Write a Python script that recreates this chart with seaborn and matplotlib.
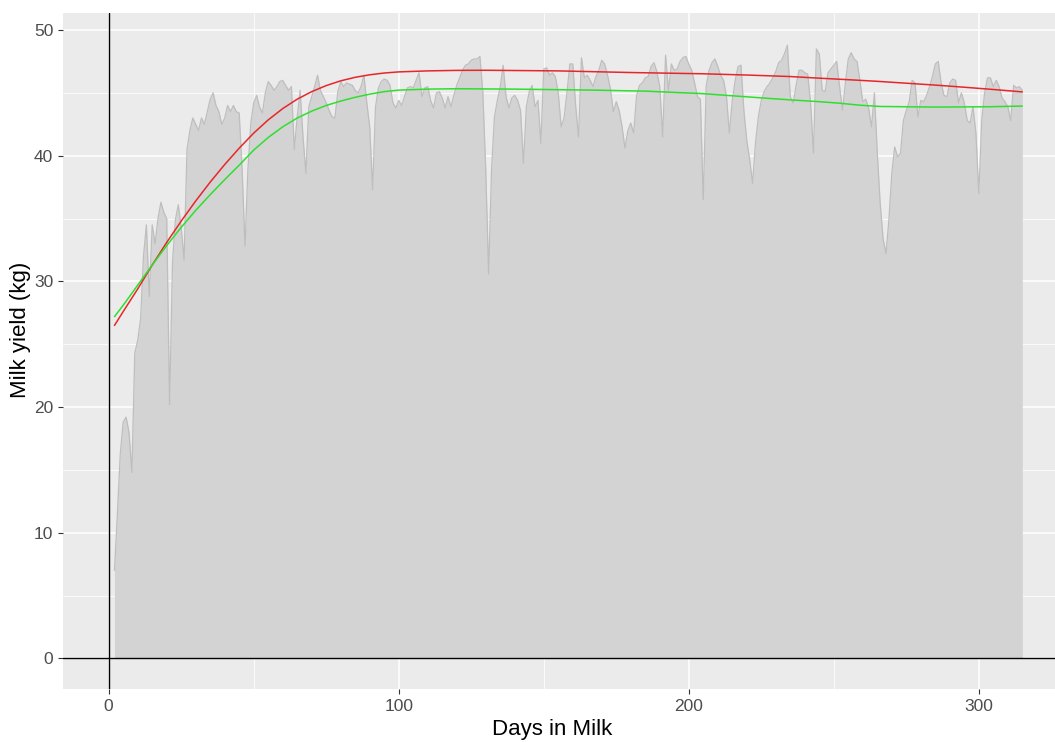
import matplotlib
matplotlib.use("Agg")
import matplotlib.pyplot as plt
import seaborn as sns
import pandas as pd
from matplotlib.ticker import MultipleLocator

# ---------------- data ----------------
days = list(range(2, 316))
milk_yield = [
    7.0, 11.5, 16.3, 18.8, 19.2, 18.0, 14.8, 24.3, 25.3, 27.0,
    32.0, 34.5, 28.8, 34.5, 33.0, 35.0, 36.3, 35.5, 35.0, 20.2,
    31.5, 34.9, 36.1, 34.3, 31.7, 40.5, 42.0, 43.0, 42.5, 42.0,
    43.0, 42.5, 43.5, 44.5, 45.0, 44.0, 43.5, 42.5, 43.0, 44.0,
    43.5, 44.0, 43.5, 43.4, 38.9, 32.8, 38.9, 42.6, 44.2, 44.8,
    43.9, 43.4, 45.0, 45.9, 45.6, 45.2, 45.5, 45.9, 46.0, 45.6,
    45.2, 45.5, 40.5, 43.1, 45.2, 41.5, 38.6, 43.9, 44.7, 45.5,
    46.4, 45.2, 44.7, 44.2, 43.6, 43.1, 43.0, 45.1, 45.9, 45.5,
    45.8, 45.7, 45.6, 45.2, 45.0, 45.5, 46.4, 44.2, 42.3, 37.3,
    43.9, 45.4, 45.9, 46.1, 46.0, 45.6, 44.2, 43.8, 44.4, 44.0,
    44.7, 45.4, 45.5, 45.4, 46.0, 46.6, 44.7, 45.4, 45.5, 44.4,
    43.8, 45.0, 45.1, 44.6, 43.8, 44.7, 43.9, 44.8, 45.6, 46.2,
    46.8, 47.2, 47.3, 47.6, 47.7, 47.7, 47.9, 45.0, 38.9, 30.6,
    38.9, 43.1, 44.4, 45.5, 47.2, 44.7, 43.8, 44.6, 44.8, 44.4,
    43.6, 39.4, 43.9, 45.1, 45.6, 43.9, 44.4, 41.0, 46.9, 47.0,
    46.4, 46.6, 46.3, 45.0, 42.3, 43.0, 45.0, 47.3, 47.3, 44.0,
    41.5, 47.8, 46.2, 46.4, 46.0, 45.5, 46.3, 46.8, 47.6, 47.3,
    46.4, 45.3, 43.5, 44.3, 43.6, 42.3, 40.6, 42.0, 42.6, 41.8,
    44.8, 45.6, 45.8, 46.2, 46.3, 47.1, 47.4, 46.7, 45.5, 41.5,
    48.0, 45.2, 47.3, 46.8, 46.9, 47.5, 47.8, 47.9, 47.3, 46.8,
    45.8, 44.7, 44.5, 36.5, 45.5, 46.8, 47.4, 47.7, 47.1, 46.4,
    46.0, 44.7, 41.8, 44.4, 46.0, 47.1, 47.2, 43.6, 41.2, 39.7,
    37.8, 41.0, 43.1, 44.4, 45.1, 45.5, 45.8, 46.2, 46.7, 47.4,
    47.6, 48.1, 48.8, 44.7, 44.2, 45.6, 46.8, 46.8, 46.6, 46.5,
    44.2, 40.2, 48.5, 48.1, 45.2, 45.1, 46.6, 46.9, 47.2, 47.5,
    45.5, 43.6, 45.8, 47.7, 48.2, 47.7, 47.5, 46.0, 44.3, 44.5,
    43.8, 42.3, 45.0, 40.2, 36.2, 33.4, 32.2, 34.9, 38.6, 40.7,
    39.9, 40.2, 42.8, 43.6, 44.3, 46.0, 45.8, 43.1, 44.4, 44.3,
    44.8, 45.5, 46.3, 47.3, 47.5, 45.8, 44.8, 44.7, 45.8, 46.1,
    46.0, 44.2, 45.0, 44.2, 42.8, 42.6, 43.9, 41.8, 37.0, 42.8,
    45.0, 46.2, 46.2, 45.5, 46.0, 45.5, 44.6, 44.3, 43.9, 42.8,
    45.6, 45.4, 45.5, 45.2,
]

red_days = [2, 5, 10, 15, 20, 25, 30, 35, 40, 45, 50, 55, 60, 65, 70, 75, 80,
            85, 90, 95, 100, 110, 120, 130, 155, 180, 205, 220, 235, 245, 255,
            265, 275, 285, 295, 305, 315]
red_fit = [26.5, 27.6, 29.4, 31.3, 33.1, 34.8, 36.4, 37.9, 39.3, 40.6, 41.8, 42.85,
           43.75, 44.5, 45.1, 45.58, 45.96, 46.24, 46.44, 46.58, 46.67, 46.75, 46.79,
           46.8, 46.75, 46.62, 46.52, 46.42, 46.3, 46.17, 46.05, 45.92, 45.77, 45.62,
           45.45, 45.27, 45.08]

green_days = [2, 5, 10, 15, 20, 25, 30, 35, 40, 45, 50, 55, 60, 65, 70, 75, 80,
              85, 90, 95, 100, 110, 120, 140, 167, 185, 197, 204, 215, 227, 236,
              245, 252, 259, 266, 285, 304, 315]
green_fit = [27.2, 28.1, 29.7, 31.3, 32.85, 34.3, 35.65, 36.9, 38.1, 39.25, 40.45,
             41.45, 42.3, 43.0, 43.55, 44.0, 44.35, 44.65, 44.9, 45.1, 45.22, 45.3,
             45.33, 45.3, 45.22, 45.14, 45.02, 44.95, 44.77, 44.57, 44.43, 44.3,
             44.18, 44.02, 43.92, 43.87, 43.9, 43.95]

x_ticks = [0, 100, 200, 300]
y_ticks = [0, 10, 20, 30, 40, 50]

df = pd.DataFrame({"dim": days, "yield": milk_yield})
df_red = pd.DataFrame({"dim": red_days, "fit": red_fit})
df_green = pd.DataFrame({"dim": green_days, "fit": green_fit})

# ---------------- style ----------------
sns.set_theme(style="darkgrid", rc={
    "axes.facecolor": "#EBEBEB",
    "figure.facecolor": "white",
    "grid.color": "white",
})
plt.rcParams["font.family"] = ["Liberation Sans", "DejaVu Sans"]

W, H = 1055, 742
fig = plt.figure(figsize=(W / 100, H / 100), dpi=100)
left, right, top, bottom = 63, 1068, 12.7, 689
aw, ah = right - left, bottom - top
ax = fig.add_axes([left / W, (H - bottom) / H, aw / W, ah / H])

# area
ax.fill_between(df["dim"], 0, df["yield"], color="#D3D3D3", linewidth=0, zorder=2)
sns.lineplot(data=df, x="dim", y="yield", ax=ax, color="#BEBEBE", linewidth=0.9, zorder=3)

# fitted curves
sns.lineplot(data=df_red, x="dim", y="fit", ax=ax, color="#E8262A", linewidth=1.1, zorder=4)
sns.lineplot(data=df_green, x="dim", y="fit", ax=ax, color="#2EE02E", linewidth=1.1, zorder=4)

ax.axhline(0, color="black", linewidth=1.0, zorder=5)
ax.axvline(0, color="black", linewidth=1.0, zorder=5)

ax.set_xlim(-15.75, 330.75)
ax.set_ylim(-2.43, 51.38)
ax.set_xticks(x_ticks)
ax.set_yticks(y_ticks)
ax.xaxis.set_minor_locator(MultipleLocator(50))
ax.yaxis.set_minor_locator(MultipleLocator(5))
ax.grid(which="major", color="white", linewidth=1.1)
ax.grid(which="minor", color="white", linewidth=0.55)
ax.set_axisbelow(True)
for s in ax.spines.values():
    s.set_visible(False)

ax.tick_params(axis="both", which="major", length=3.6, width=0.8, color="#333333",
               labelsize=12.5, labelcolor="#4D4D4D", pad=3.4, bottom=True, left=True)
ax.tick_params(axis="both", which="minor", length=0)

ax.set_xlabel("Days in Milk", fontsize=16, color="black")
ax.set_ylabel("Milk yield (kg)", fontsize=16, color="black")
ax.xaxis.set_label_coords((552 - left) / aw, (bottom - 719) / ah)
ax.yaxis.set_label_coords((31 - left) / aw, (bottom - 330) / ah)

fig.savefig("out.png", dpi=100)
